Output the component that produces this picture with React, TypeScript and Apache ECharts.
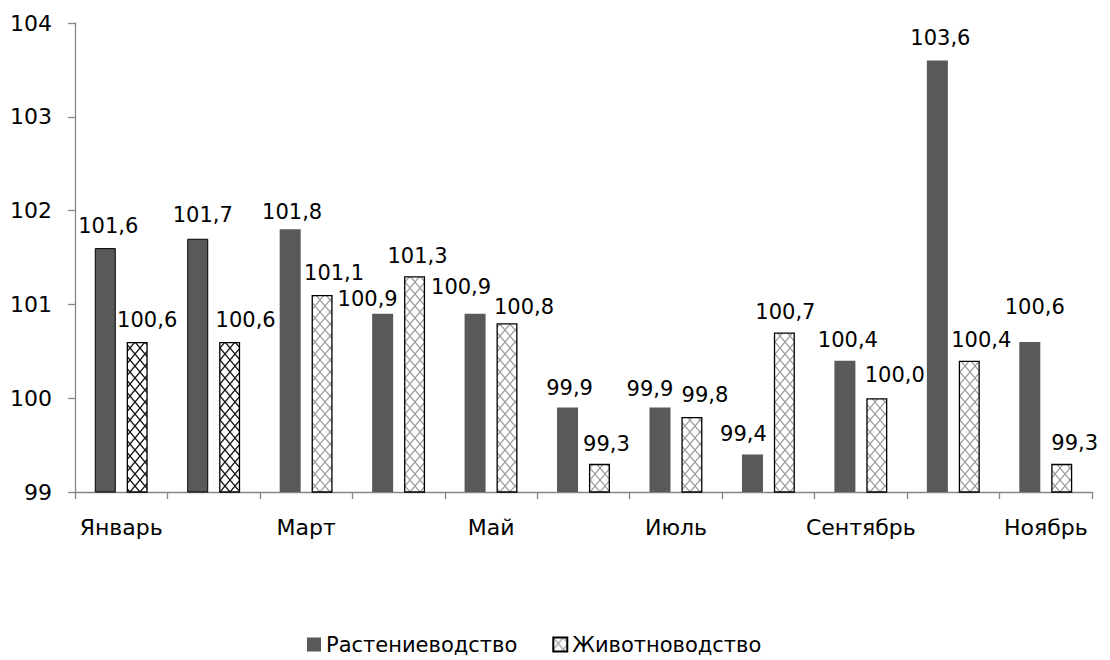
import React, { useEffect, useRef } from "react";
import * as echarts from "echarts";

const categories = ["Январь", "Февраль", "Март", "Апрель", "Май", "Июнь", "Июль", "Август", "Сентябрь", "Октябрь", "Ноябрь"];
const cropValues = [101.6, 101.7, 101.8, 100.9, 100.9, 99.9, 99.9, 99.4, 100.4, 103.6, 100.6];
const livestockValues = [100.6, 100.6, 101.1, 101.3, 100.8, 99.3, 99.8, 100.7, 100.0, 100.4, 99.3];
const yTicks = { min: 99, max: 104, interval: 1 };

// label nudges (pixels) to mimic the reference's label placement
const cropLabelNudge = [[3, -2], [5, -3], [2, 3], [-15, 6], [-14, -6], [2, 1], [-10, 2], [-9, 0], [3, 0], [3, -2], [5, -14]];
const livestockLabelNudge = [[10, -1], [16, -1], [12, -2], [3, 0], [17, 4], [7, 1], [13, -1], [1, 0], [18, -3], [12, 0], [13, 0]];

function makeHatch(color: string, lw: number): HTMLCanvasElement {
  const c = document.createElement("canvas");
  const w = 10, h = 12;
  c.width = w;
  c.height = h;
  const ctx = c.getContext("2d")!;
  ctx.fillStyle = "#ffffff";
  ctx.fillRect(0, 0, w, h);
  ctx.strokeStyle = color;
  ctx.lineWidth = lw;
  ctx.beginPath();
  ctx.moveTo(0, h);
  ctx.lineTo(w, 0);
  ctx.moveTo(0, 0);
  ctx.lineTo(w, h);
  ctx.stroke();
  return c;
}

const fmt = (v: number) => v.toFixed(1).replace(".", ",");

export default function App() {
  const ref = useRef<HTMLDivElement>(null);
  useEffect(() => {
    document.body.style.margin = "0";
    if (!ref.current) return;
    const chart = echarts.init(ref.current, null, { renderer: "svg" });
    const darkHatch = makeHatch("#111111", 1.3);
    const lightHatch = makeHatch("#9c9c9c", 1.2);
    const darkPattern = { image: darkHatch, repeat: "repeat", imageWidth: 10, imageHeight: 12 };
    const lightPattern = { image: lightHatch, repeat: "repeat", imageWidth: 10, imageHeight: 12 };
    const font = "DejaVu Sans";

    const cropData = cropValues.map((v, i) => ({
      value: v,
      itemStyle: i < 2 ? { color: "#595959", borderColor: "#000000", borderWidth: 1 } : { color: "#595959" },
      label: { offset: cropLabelNudge[i] },
    }));
    const livestockData = livestockValues.map((v, i) => ({
      value: v,
      itemStyle: { color: i < 2 ? darkPattern : lightPattern, borderColor: "#000000", borderWidth: 1.3 },
      label: { offset: livestockLabelNudge[i] },
    }));

    const labelCommon = {
      show: true,
      position: "top",
      distance: 10,
      fontFamily: font,
      fontSize: 21,
      color: "#000000",
      formatter: (p: any) => fmt(p.value),
    };

    chart.setOption({
      animation: false,
      textStyle: { fontFamily: font },
      grid: { left: 75, right: 18, top: 23, bottom: 168, containLabel: false },
      legend: {
        left: 302,
        top: 629,
        itemWidth: 14,
        itemHeight: 14,
        itemGap: 35,
        icon: "rect",
        textStyle: { fontFamily: font, fontSize: 21, color: "#000000" },
        data: ["Растениеводство", "Животноводство"],
      },
      xAxis: {
        type: "category",
        data: categories,
        boundaryGap: true,
        axisLine: { lineStyle: { color: "#868686", width: 1.3 } },
        axisTick: { show: true, interval: 0, length: 7, lineStyle: { color: "#868686", width: 1.3 } },
        axisLabel: { interval: 1, margin: 24, fontFamily: font, fontSize: 22, color: "#000000" },
        splitLine: { show: false },
      },
      yAxis: {
        type: "value",
        min: yTicks.min,
        max: yTicks.max,
        interval: yTicks.interval,
        axisLine: { show: true, lineStyle: { color: "#868686", width: 1.3 } },
        axisTick: { show: true, length: 7, lineStyle: { color: "#868686", width: 1.3 } },
        axisLabel: { margin: 23, fontFamily: font, fontSize: 22, color: "#000000" },
        splitLine: { show: false },
      },
      series: [
        {
          name: "Растениеводство",
          type: "bar",
          barWidth: 21,
          barGap: "52%",
          itemStyle: { color: "#595959" },
          label: labelCommon,
          data: cropData,
        },
        {
          name: "Животноводство",
          type: "bar",
          barWidth: 21,
          itemStyle: { color: lightPattern, borderColor: "#000000", borderWidth: 1.3 },
          label: labelCommon,
          data: livestockData,
        },
      ],
    });
    return () => chart.dispose();
  }, []);
  return <div ref={ref} style={{ width: 1110, height: 660 }} />;
}
